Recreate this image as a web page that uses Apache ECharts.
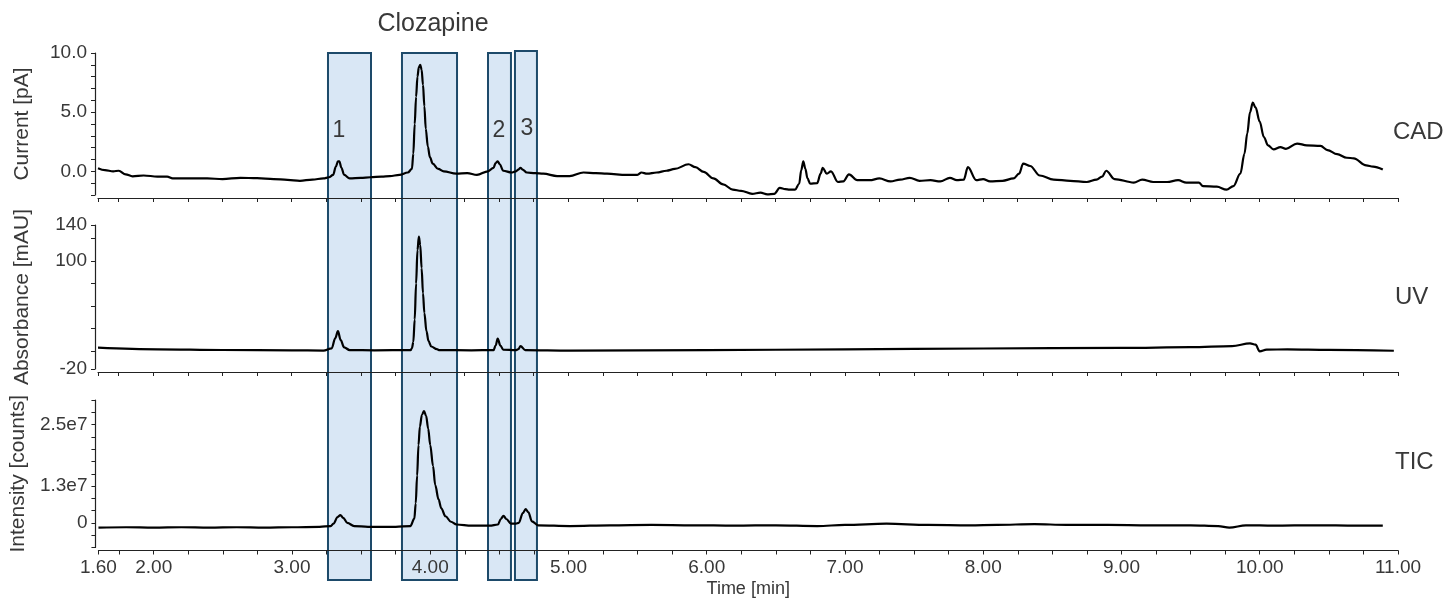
<!DOCTYPE html>
<html>
<head>
<meta charset="utf-8">
<script src="https://cdn.jsdelivr.net/npm/echarts@6/dist/echarts.min.js"></script>
<style>
  html, body { margin: 0; padding: 0; background: #fff; }
  #chart { width: 1449px; height: 600px; }
</style>
</head>
<body>
<div id="chart"></div>
<script>
// ---- data ----
// CAD trace, current in pA
const cadTime = [1.60,1.65,1.71,1.75,1.80,1.85,1.93,2.03,2.10,2.14,2.25,2.39,2.50,2.63,2.75,2.87,2.97,3.06,3.15,3.23,3.27,3.30,3.32,3.335,3.345,3.36,3.38,3.42,3.50,3.57,3.65,3.71,3.78,3.84,3.87,3.88,3.89,3.90,3.91,3.92,3.93,3.94,3.95,3.96,3.97,3.985,4.00,4.02,4.06,4.10,4.19,4.27,4.34,4.42,4.46,4.475,4.49,4.505,4.53,4.59,4.62,4.64,4.655,4.67,4.70,4.76,4.82,4.92,5.01,5.11,5.20,5.28,5.42,5.50,5.53,5.57,5.64,5.71,5.77,5.87,5.92,5.98,6.05,6.12,6.19,6.25,6.33,6.39,6.44,6.49,6.53,6.57,6.60,6.64,6.67,6.685,6.70,6.715,6.73,6.75,6.80,6.825,6.84,6.87,6.90,6.95,6.99,7.03,7.09,7.18,7.25,7.33,7.40,7.47,7.54,7.62,7.69,7.76,7.81,7.86,7.89,7.95,8.00,8.05,8.14,8.22,8.26,8.29,8.34,8.41,8.51,8.63,8.75,8.82,8.86,8.89,8.95,9.09,9.15,9.23,9.33,9.41,9.47,9.56,9.59,9.69,9.76,9.81,9.86,9.89,9.91,9.93,9.95,9.97,10.00,10.03,10.06,10.10,10.15,10.19,10.27,10.34,10.44,10.49,10.56,10.63,10.68,10.77,10.82,10.89];
const cadValue = [0.27,0.1,0.0,0.05,-0.25,-0.42,-0.35,-0.44,-0.45,-0.6,-0.6,-0.6,-0.65,-0.55,-0.58,-0.65,-0.72,-0.8,-0.7,-0.6,-0.5,-0.3,0.4,0.85,0.85,0.3,-0.3,-0.6,-0.55,-0.5,-0.45,-0.4,-0.3,-0.1,0.2,1.5,4.0,6.3,8.0,8.8,9.0,8.6,7.3,5.5,3.6,2.1,1.2,0.65,0.2,0.0,-0.2,-0.15,-0.3,0.0,0.3,0.7,0.85,0.6,0.05,-0.1,0.0,0.15,0.3,0.15,-0.1,-0.15,-0.2,-0.4,-0.4,-0.1,-0.15,-0.2,-0.3,-0.3,-0.1,-0.2,-0.1,0.05,0.2,0.6,0.35,-0.05,-0.6,-1.1,-1.55,-1.65,-1.9,-1.8,-1.95,-1.9,-1.4,-1.5,-1.55,-1.55,-1.05,0.1,0.85,0.2,-0.6,-1.05,-1.0,-0.2,0.3,-0.2,0.0,-0.9,-0.85,-0.25,-0.75,-0.75,-0.6,-0.85,-0.7,-0.55,-0.8,-0.75,-0.85,-0.55,-0.75,-0.7,0.35,-0.75,-0.65,-0.85,-0.8,-0.6,-0.2,0.65,0.45,-0.35,-0.7,-0.8,-0.9,-0.7,-0.45,0.05,-0.65,-0.95,-0.7,-0.9,-0.9,-0.75,-0.95,-0.95,-1.25,-1.3,-1.55,-1.25,-0.2,1.5,3.2,5.0,5.8,5.4,4.2,2.9,2.2,1.85,2.05,1.9,2.35,2.2,2.15,1.8,1.45,1.15,1.1,0.5,0.4,0.15];

// UV trace, absorbance in mAU
const uvTime = [1.60,2.03,2.50,3.00,3.23,3.29,3.315,3.335,3.355,3.38,3.42,3.60,3.86,3.87,3.88,3.89,3.90,3.91,3.92,3.93,3.94,3.95,3.96,3.975,3.99,4.01,4.05,4.07,4.30,4.46,4.475,4.49,4.51,4.53,4.62,4.64,4.655,4.69,5.01,6.00,7.00,8.00,9.00,9.50,9.80,9.93,9.97,10.00,10.05,10.20,10.50,10.97];
const uvValue = [3.7,1.9,1.1,0.7,0.5,3,14,22,12,4,1,0.8,1,3,10,35,75,112,127,118,92,64,42,22,11,5,2,1,0.8,1,6,13.7,6,1.5,1,2,5.5,1,0.5,1.0,1.8,2.8,3.5,4.2,5.5,8.5,7,-0.5,1.5,1.8,1.2,0.3];

// TIC trace, intensity in units of 1e7 counts
const ticTime = [1.60,1.80,2.00,2.20,2.40,2.60,2.80,3.00,3.20,3.28,3.30,3.33,3.35,3.37,3.40,3.45,3.55,3.75,3.856,3.885,3.895,3.905,3.915,3.925,3.94,3.955,3.97,3.985,4.00,4.02,4.036,4.06,4.08,4.11,4.15,4.19,4.30,4.43,4.49,4.51,4.53,4.55,4.585,4.62,4.64,4.67,4.69,4.71,4.735,4.78,5.01,5.30,5.60,5.90,6.20,6.50,6.80,7.00,7.30,7.60,7.90,8.10,8.37,8.60,8.90,9.20,9.50,9.70,9.78,9.90,10.10,10.40,10.70,10.89];
const ticValue = [-0.12,-0.11,-0.12,-0.11,-0.12,-0.11,-0.12,-0.11,-0.1,-0.08,-0.02,0.15,0.2,0.13,0.0,-0.08,-0.1,-0.1,-0.08,0.11,0.5,1.2,1.98,2.45,2.75,2.84,2.72,2.4,1.98,1.45,0.96,0.6,0.37,0.17,0.03,-0.04,-0.07,-0.07,-0.04,0.1,0.18,0.1,-0.02,-0.02,0.0,0.25,0.35,0.27,0.04,-0.06,-0.08,-0.06,-0.05,-0.06,-0.07,-0.06,-0.08,-0.05,-0.02,-0.05,-0.06,-0.05,-0.03,-0.05,-0.05,-0.06,-0.06,-0.08,-0.12,-0.06,-0.07,-0.06,-0.07,-0.07];

// highlighted retention windows [start, end] in min
const boxStart = [3.263, 3.798, 4.420, 4.615];
const boxEnd   = [3.574, 4.196, 4.586, 4.774];
const boxLabel = ['1', 'Clozapine', '2', '3'];

// axis ticks and labels
const xLabels = [1.6, 2, 3, 4, 5, 6, 7, 8, 9, 10, 11];
const cadTicks = [-2,-1,0,1,2,3,4,5,6,7,8,9,10];
const cadLabels = [0, 5, 10];
const uvTicks = [-20,0,25,50,75,100,125,140];
const uvLabels = [-20, 100, 140];
const ticTicks = [-0.625,-0.3125,0,0.3125,0.625,0.9375,1.25,1.5625,1.875,2.1875,2.5,2.8125,3.125];
const ticLabels = [0, 0.9375, 2.5];
const ticLabelText = ['0', '1.3e7', '2.5e7'];

// ---- chart ----
const FONT = '"Liberation Sans", Arial, sans-serif';
const TXT = '#383838';
const AX = '#222';

let xTicks = [1.6];
for (let t = 1.75; t <= 11.001; t += 0.25) xTicks.push(+t.toFixed(2));

function xAxisFor(i, withLabels) {
    return {
        type: 'value', gridIndex: i, min: 1.6, max: 11, offset: 3, z: 5,
        axisLine: { show: true, onZero: false, lineStyle: { color: AX, width: 1.2 } },
        axisTick: { show: true, customValues: xTicks, length: 4, lineStyle: { color: AX } },
        axisLabel: withLabels ? {
            customValues: xLabels, margin: 8, fontSize: 19, color: TXT, fontFamily: FONT,
            formatter: function (v) { return v.toFixed(2); }
        } : { show: false },
        name: withLabels ? 'Time [min]' : '',
        nameLocation: 'middle', nameGap: 30,
        nameTextStyle: { fontSize: 18, color: TXT, fontFamily: FONT },
        splitLine: { show: false }
    };
}

function yAxisFor(i, min, max, ticks, labels, fmt, name) {
    return {
        type: 'value', gridIndex: i, min: min, max: max, offset: 3, z: 5,
        name: name, nameLocation: 'middle', nameGap: 62,
        nameTextStyle: { fontSize: 21, color: TXT, fontFamily: FONT },
        axisLine: { show: true, lineStyle: { color: AX, width: 1.2 } },
        axisTick: { show: true, customValues: ticks, length: 4, lineStyle: { color: AX } },
        axisLabel: { customValues: labels, formatter: fmt, margin: 8, fontSize: 19, color: TXT, fontFamily: FONT },
        splitLine: { show: false }
    };
}

function trace(xi, t, v) {
    return {
        type: 'line', xAxisIndex: xi, yAxisIndex: xi,
        data: t.map(function (x, k) { return [x, v[k]]; }),
        symbol: 'none', smooth: 0.35, smoothMonotone: 'x',
        lineStyle: { color: '#000', width: 2.2 }, z: 3, silent: true
    };
}

// label placement inside / above each box (px relative to the box corner)
const boxLabelPos = [[12, 79], [32, -28], [12, 79], [13, 79]];
const boxTop = [0.996, 0.996, 0.996, 1];

let boxAreas = boxStart.map(function (s, k) {
    return [{
        name: boxLabel[k], xAxis: s, yAxis: 0,
        label: {
            show: true, formatter: '{b}', position: boxLabelPos[k], align: 'center', verticalAlign: 'middle',
            fontSize: k === 1 ? 25 : 23, color: TXT, fontFamily: FONT
        }
    }, { xAxis: boxEnd[k], yAxis: boxTop[k] }];
});

let myChart = echarts.init(document.getElementById('chart'));
myChart.setOption({
    animation: false,
    textStyle: { fontFamily: FONT },
    grid: [
        { left: 98, right: 51, top: 53, height: 142 },
        { left: 98, right: 51, top: 225, height: 144 },
        { left: 98, right: 51, top: 400, height: 147.5 },
        { left: 98, right: 51, top: 51, bottom: 20 }   // overlay for the boxes
    ],
    xAxis: [
        xAxisFor(0, false),
        xAxisFor(1, false),
        xAxisFor(2, true),
        { type: 'value', gridIndex: 3, min: 1.6, max: 11, show: false }
    ],
    yAxis: [
        yAxisFor(0, -2, 10, cadTicks, cadLabels, function (v) { return v.toFixed(1); }, 'Current [pA]'),
        yAxisFor(1, -20, 140, uvTicks, uvLabels, function (v) { return String(v); }, 'Absorbance [mAU]'),
        yAxisFor(2, -0.625, 3.125, ticTicks, ticLabels, function (v) {
            return ticLabelText[ticLabels.indexOf(v)] || '';
        }, 'Intensity [counts]'),
        { type: 'value', gridIndex: 3, min: 0, max: 1, show: false }
    ],
    graphic: [
        { type: 'text', x: 1393, y: 132, style: { text: 'CAD', fontSize: 24, fontFamily: FONT, fill: TXT, verticalAlign: 'middle' } },
        { type: 'text', x: 1395, y: 297, style: { text: 'UV', fontSize: 24, fontFamily: FONT, fill: TXT, verticalAlign: 'middle' } },
        { type: 'text', x: 1395, y: 462, style: { text: 'TIC', fontSize: 24, fontFamily: FONT, fill: TXT, verticalAlign: 'middle' } }
    ],
    series: [
        {
            type: 'line', xAxisIndex: 3, yAxisIndex: 3, data: [], symbol: 'none', z: 1, silent: true,
            markArea: {
                silent: true,
                itemStyle: { color: '#d9e7f5', borderColor: '#1d4a6a', borderWidth: 2 },
                data: boxAreas
            }
        },
        trace(0, cadTime, cadValue),
        trace(1, uvTime, uvValue),
        trace(2, ticTime, ticValue)
    ]
});
</script>
</body>
</html>
